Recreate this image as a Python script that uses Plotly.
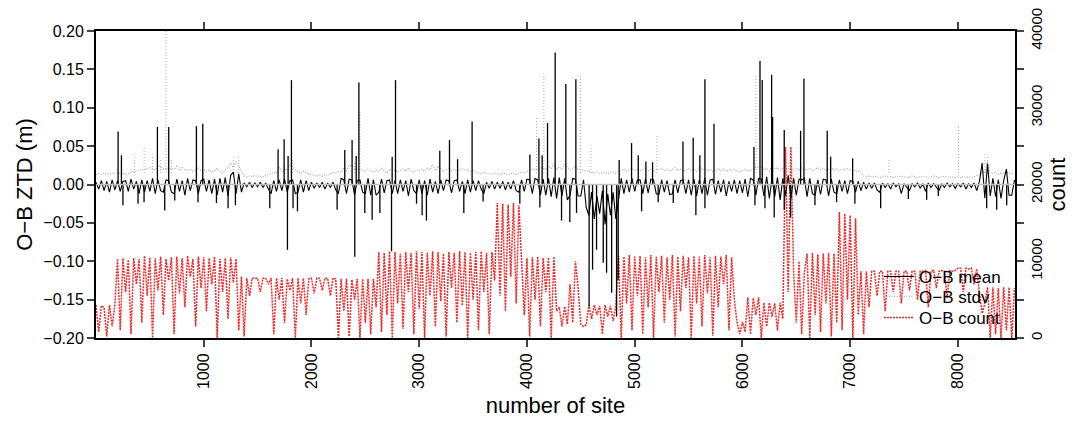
import plotly.graph_objects as go

# site index (every 25th site)
sites = list(range(0, 8550, 25))

# O-B mean background level, in mm
mean_mm = [
    3, -6, 5, -8, 4, -10, 6, -7, 5, -9, 4, 5, -9, 7, -6, 4, -12, 6, -10, 5,
    -9, 8, -12, 6, -8, -10, 6, 5, -10, -12, 7, -9, 5, -14, 8, -8, 6, 5, -12, 5,
    7, -9, 6, -12, 7, -14, 8, -10, 9, -15, 12, 16, -12, 14, -10, 2, -3, 3, -4, 2,
    -3, 3, -4, 2, -6, -12, 5, -9, 6, -8, 7, -10, 5, 6, -12, -10, 6, -10, 5, -8,
    3, -5, 2, -4, 3, -6, 2, -4, 3, -7, -12, 8, 6, -12, 7, 6, -14, 5, 6, -10,
    -12, 8, -14, 6, -14, -10, 7, -11, 5, 6, -12, 5, -12, 6, -9, 5, -15, 7, -8, -12,
    6, -12, 5, -14, 7, -10, 4, -12, 6, -8, 6, 5, -11, 5, 6, -9, 4, -12, 6, -10,
    5, -8, 5, -6, -12, 3, -5, 4, -6, 3, -5, 4, -7, 3, -6, 5, -8, -10, 6, -9,
    7, 6, -12, 8, 6, -14, 7, -14, 8, -16, 9, -18, 9, -15, 8, -20, -14, 8, 7, -15,
    -15, 6, -30, -40, -10, -45, -15, -38, -8, -52, -12, -40, -10, -45, -20, 8, -12, 6, -10, 8,
    -9, 6, 6, -12, 7, -11, 7, 6, -12, -13, 6, -10, 5, -13, -12, 6, -11, 5, 6, -12,
    6, -14, 7, -15, 6, -12, 8, -14, 6, 7, -13, 5, -10, 6, -15, 4, -9, 6, -12, 5,
    -11, 7, -16, 8, 6, -14, 8, 7, -15, 10, -18, 9, -16, 9, -20, 8, -15, 12, -18, 8,
    -14, 7, 6, 8, -16, 8, -12, -14, 6, -13, 7, 6, -15, 7, -10, -12, 6, -9, 5, -12,
    5, 4, -10, 4, -8, 3, -6, 2, -5, 2, -7, -10, 2, -4, 1, -6, 2, -3, 1, -12,
    1, -4, -8, 1, -3, 2, -5, 1, -9, 2, -4, 1, -3, -8, 1, -4, 2, -3, 1, -5,
    1, -3, 2, -6, 1, -4, 2, -8, 4, 28, -18, 27, -15, 8, -16, 6, -18, 5, 20, -14,
    -14, 6,
]

# O-B mean spikes: site and value in mm
mean_spike_sites = [
    205, 236, 570, 675, 932, 991, 1690, 1746, 1783, 1814, 2309, 2377, 2415, 2440,
    2749, 2780, 3191, 3281, 3356, 3491, 4027, 4111, 4141, 4191, 4262, 4361, 4454,
    4856, 4971, 5033, 5104, 5166, 5448, 5543, 5605, 5652, 5736, 6107, 6163, 6184,
    6271, 6280, 6388, 6540, 6571, 6787, 6819, 7023,
    250, 390, 446, 638, 731, 947, 1118, 1226, 1294, 1613, 1777, 1829, 1870, 2238,
    2402, 2495, 2563, 2635, 2743, 2975, 3027, 3067, 3414, 3593, 3934, 4120, 4321,
    4398, 4460, 4577, 4609, 4646, 4708, 4739, 4786, 4832, 4847, 5064, 5218, 5358,
    5568, 5652, 6116, 6209, 6295, 6388, 6447, 6673, 6874, 7044, 7283, 7540, 7710,
    7818, 8267, 8360, 8453,
]
mean_spike_mm = [
    69, 38, 75, 75, 76, 79, 46, 59, 37, 136, 45, 58, 37, 133,
    36, 136, 44, 58, 33, 82, 39, 60, 38, 80, 172, 131, 137,
    32, 54, 38, 30, 29, 56, 61, 38, 137, 79, 49, 161, 136,
    143, 88, 71, 70, 138, 70, 36, 34,
    -27, -25, -23, -34, -21, -23, -24, -31, -27, -31, -85, -31, -35, -33,
    -94, -37, -46, -37, -87, -25, -40, -47, -37, -22, -25, -30, -47,
    -49, -37, -159, -111, -85, -102, -115, -141, -172, -124, -35, -23, -24,
    -40, -31, -27, -31, -43, -33, -43, -27, -23, -25, -31, -19, -20,
    -15, -31, -33, -27,
]

# O-B stdv background level, in mm
stdv_mm = [
    13, 14, 13, 15, 14, 13, 15, 14, 16, 14, 15, 13, 14, 16, 17, 17, 19, 19, 20, 20,
    22, 20, 19, 25, 22, 20, 21, 21, 21, 20, 24, 18, 22, 19, 18, 20, 17, 19, 22, 18,
    20, 17, 19, 16, 18, 21, 17, 15, 18, 22, 28, 22, 30, 24, 18, 11, 10, 11, 10, 12,
    10, 11, 10, 12, 13, 14, 16, 15, 22, 17, 20, 18, 25, 22, 19, 16, 14, 17, 15, 14,
    13, 12, 11, 12, 11, 13, 12, 14, 16, 15, 17, 16, 22, 18, 25, 24, 22, 19, 20, 18,
    17, 20, 18, 16, 19, 17, 21, 18, 15, 20, 17, 19, 16, 18, 20, 17, 22, 18, 16, 19,
    18, 20, 17, 21, 19, 26, 18, 24, 20, 17, 19, 22, 18, 20, 17, 19, 21, 18, 20, 17,
    19, 16, 15, 14, 16, 15, 14, 13, 15, 14, 13, 15, 14, 13, 14, 15, 13, 14, 16, 15,
    17, 18, 20, 19, 20, 22, 21, 20, 24, 21, 27, 19, 23, 20, 26, 22, 19, 21, 24, 20,
    19, 18, 17, 16, 16, 15, 16, 14, 15, 16, 14, 15, 16, 15, 17, 18, 20, 17, 19, 21,
    18, 20, 17, 19, 22, 18, 20, 17, 20, 19, 21, 18, 20, 17, 19, 22, 18, 20, 17, 19,
    21, 18, 20, 17, 23, 19, 21, 18, 20, 17, 19, 21, 18, 20, 17, 19, 18, 20, 17, 16,
    18, 20, 17, 19, 21, 22, 22, 24, 19, 21, 18, 25, 20, 22, 19, 21, 18, 20, 23, 19,
    21, 18, 22, 20, 19, 21, 18, 20, 22, 19, 21, 18, 20, 22, 19, 21, 18, 20, 19, 21,
    19, 20, 17, 18, 16, 11, 10, 11, 10, 11, 10, 9, 10, 11, 10, 10, 9, 10, 11, 10,
    10, 9, 10, 11, 10, 9, 10, 11, 10, 9, 10, 11, 10, 9, 10, 11, 10, 9, 10, 9,
    10, 9, 10, 9, 10, 9, 10, 11, 13, 16, 15, 30, 15, 14, 16, 13, 15, 14, 16, 15,
    14, 15,
]

# O-B stdv spikes: site and value in mm
stdv_spike_sites = [358, 447, 525, 600, 650, 700, 1275, 1325, 1750, 1825, 2400, 2449,
                    4089, 4157, 4498, 4593, 5206, 6126, 7360, 8005, 8250, 8275]
stdv_spike_mm = [36, 49, 36, 35, 200, 33, 35, 38, 30, 33, 30, 97,
                 88, 145, 142, 51, 64, 144, 34, 75, 40, 38]

# O-B count, in hundreds
count_h = [
    43, 8, 42, 40, 2, 43, 15, 43, 103, 10, 104, 60, 102, 5, 104, 70, 103, 20, 107, 55,
    105, 0, 104, 62, 106, 30, 103, 75, 105, 5, 106, 58, 104, 40, 107, 80, 103, 15, 106, 65,
    105, 35, 104, 70, 106, 0, 103, 60, 104, 25, 105, 72, 103, 10, 80, 2, 78, 55, 78, 78,
    78, 60, 78, 78, 70, 78, 5, 78, 50, 78, 20, 77, 62, 78, 0, 78, 45, 78, 30, 77,
    78, 58, 78, 78, 62, 78, 78, 55, 78, 77, 0, 77, 35, 77, 2, 76, 50, 77, 0, 77,
    20, 77, 5, 77, 40, 112, 8, 111, 30, 113, 0, 112, 45, 110, 12, 112, 60, 111, 5, 113,
    38, 112, 0, 111, 55, 113, 15, 112, 48, 110, 2, 112, 65, 111, 20, 113, 42, 112, 0, 111,
    50, 112, 10, 113, 60, 111, 5, 112, 75, 176, 55, 175, 35, 174, 80, 176, 45, 173, 105, 30,
    104, 2, 105, 50, 106, 15, 104, 60, 105, 0, 106, 35, 40, 15, 41, 18, 70, 20, 100, 65,
    18, 15, 17, 43, 25, 43, 30, 42, 5, 43, 28, 42, 22, 43, 107, 0, 106, 45, 108, 10,
    106, 55, 107, 5, 105, 40, 108, 0, 106, 60, 107, 20, 105, 50, 108, 2, 106, 35, 107, 65,
    105, 0, 107, 45, 106, 15, 108, 58, 105, 3, 107, 40, 106, 70, 108, 10, 105, 50, 20, 5,
    21, 8, 53, 5, 52, 30, 53, 0, 46, 15, 46, 28, 45, 10, 46, 25, 249, 60, 249, 86,
    20, 100, 5, 86, 110, 0, 111, 30, 109, 8, 110, 45, 111, 2, 110, 20, 164, 10, 162, 50,
    160, 0, 156, 30, 87, 5, 87, 40, 87, 87, 55, 87, 87, 35, 87, 87, 60, 87, 87, 45,
    87, 87, 62, 87, 87, 50, 87, 87, 88, 40, 87, 88, 65, 87, 88, 87, 52, 88, 87, 88,
    91, 91, 60, 91, 90, 91, 70, 90, 58, 32, 45, 66, 0, 66, 5, 65, 0, 66, 10, 66,
    0, 65,
]

x_ticks = [1000, 2000, 3000, 4000, 5000, 6000, 7000, 8000]
ztd_ticks = [-0.20, -0.15, -0.10, -0.05, 0.00, 0.05, 0.10, 0.15, 0.20]
count_ticks = [0, 5000, 10000, 15000, 20000, 25000, 30000, 35000, 40000]
count_labels = ["0", "", "10000", "", "20000", "", "30000", "", "40000"]

n = min(len(sites), len(mean_mm), len(stdv_mm), len(count_h))
sites = sites[:n]
mean = [v / 1000 for v in mean_mm[:n]]
stdv = [v / 1000 for v in stdv_mm[:n]]
count = [v * 100 for v in count_h[:n]]


def spikes(xs, vals, base):
    px, py = [], []
    for s, v in zip(xs, vals):
        px += [s, s, None]
        py += [base, v / 1000, None]
    return px, py


msx, msy = spikes(mean_spike_sites, mean_spike_mm, 0.0)
ssx, ssy = spikes(stdv_spike_sites, stdv_spike_mm, 0.015)

FONT = "Liberation Sans, Arial, Helvetica, sans-serif"
RED = "#ee2a2a"
GRAY = "#aaaaaa"

fig = go.Figure()
fig.add_trace(go.Scatter(x=sites, y=count, yaxis="y", mode="lines", name="O\u2212B count",
                         legend="legend3",
                         line=dict(color=RED, width=1.5, dash="2px,1px")))
fig.add_trace(go.Scatter(x=sites, y=stdv, yaxis="y2", mode="lines", name="O\u2212B stdv",
                         legend="legend2",
                         line=dict(color=GRAY, width=1.2, dash="1px,1.5px")))
fig.add_trace(go.Scatter(x=ssx, y=ssy, yaxis="y2", mode="lines", showlegend=False,
                         line=dict(color=GRAY, width=1, dash="1px,2px")))
fig.add_trace(go.Scatter(x=sites, y=mean, yaxis="y2", mode="lines", name="O\u2212B mean",
                         legend="legend",
                         line=dict(color="#000000", width=1.1)))
fig.add_trace(go.Scatter(x=msx, y=msy, yaxis="y2", mode="lines", showlegend=False,
                         line=dict(color="#000000", width=1.3)))

fig.add_shape(type="line", xref="paper", x0=0, x1=1, yref="y2", y0=0, y1=0,
              line=dict(color="#c0c0c0", width=1.5), layer="above")

leg = dict(x=0.852, xanchor="left", yanchor="middle",
           bgcolor="rgba(0,0,0,0)", font=dict(size=17), itemwidth=30)

# the page body has an 8px margin, so the figure is sized to the remaining area
fig.update_layout(
    width=1070, height=414,
    margin=dict(l=88, r=63, t=23, b=84),
    paper_bgcolor="white", plot_bgcolor="white",
    font=dict(family=FONT, size=16, color="black"),
    showlegend=True,
    legend=dict(leg, y=0.199),
    legend2=dict(leg, y=0.134),
    legend3=dict(leg, y=0.065),
    xaxis=dict(range=[0, 8530], tickvals=x_ticks, tickangle=-90, automargin=False,
               ticks="outside", ticklen=7, tickwidth=1.5, mirror="ticks",
               showline=True, linecolor="black", linewidth=2,
               showgrid=False, zeroline=False,
               title=dict(text="number of site", font=dict(size=22), standoff=10)),
    yaxis=dict(range=[0, 40000], side="right", tickvals=count_ticks, automargin=False,
               ticktext=count_labels, tickangle=-90, ticklabeloverflow="allow",
               tickfont=dict(size=15),
               ticks="outside", ticklen=7, tickwidth=1.5,
               showline=True, linecolor="black", linewidth=2,
               showgrid=False, zeroline=False,
               title=dict(text="count", font=dict(size=22), standoff=4)),
    yaxis2=dict(range=[-0.2, 0.2], side="left", overlaying="y", automargin=False,
                tickvals=ztd_ticks, tickformat=".2f", ticklabeloverflow="allow",
                ticks="outside", ticklen=7, tickwidth=1.5,
                showline=True, linecolor="black", linewidth=2,
                showgrid=False, zeroline=False,
                title=dict(text="O\u2212B ZTD (m)", font=dict(size=22), standoff=5)),
)

fig.write_html("out.html")
